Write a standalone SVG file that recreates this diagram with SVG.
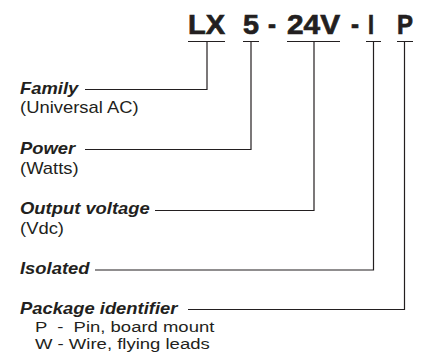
<svg xmlns="http://www.w3.org/2000/svg" width="422" height="356" viewBox="0 0 422 356">
<style>
.code{font-family:"Liberation Sans",Arial,sans-serif;font-weight:bold;font-size:28px;fill:#231f20;stroke:#231f20;stroke-width:0.7}
.lbl{font-family:"Liberation Sans",Arial,sans-serif;font-weight:bold;font-style:italic;font-size:16px;fill:#231f20}
.sub{font-family:"Liberation Sans",Arial,sans-serif;font-size:16px;fill:#231f20}
.opt{font-family:"Liberation Sans",Arial,sans-serif;font-size:15px;fill:#231f20}
.ln{fill:none;stroke:#231f20;stroke-width:1.2}
</style>
<rect width="422" height="356" fill="#fff"/>
<g id="code">
<text class="code" x="188" y="34" textLength="37" lengthAdjust="spacingAndGlyphs">LX</text>
<text class="code" x="243" y="34" textLength="16" lengthAdjust="spacingAndGlyphs">5</text>
<text class="code" x="268" y="34" textLength="8" lengthAdjust="spacingAndGlyphs">-</text>
<text class="code" x="287" y="34" textLength="53" lengthAdjust="spacingAndGlyphs">24V</text>
<text class="code" x="351" y="34" textLength="8" lengthAdjust="spacingAndGlyphs">-</text>
<text class="code" x="368" y="34" textLength="6" lengthAdjust="spacingAndGlyphs">I</text>
<text class="code" x="397" y="34" textLength="16" lengthAdjust="spacingAndGlyphs">P</text>
</g>
<g id="connectors" class="ln">
<path d="M188 41.5H225M207 41.5V89.5H85"/>
<path d="M243 41.5H259M251 41.5V149.5H85"/>
<path d="M287 41.5H340M314 41.5V210.5H155"/>
<path d="M366 41.5H381M373.5 41.5V270H95"/>
<path d="M397 41.5H413M404.5 41.5V309.5H188"/>
</g>
<g transform="scale(1.15 1)">
<g id="family">
<text class="lbl" x="17.4" y="94">Family</text>
<text class="sub" x="17.4" y="113">(Universal AC)</text>
</g>
<g id="power">
<text class="lbl" x="17.4" y="154">Power</text>
<text class="sub" x="17.4" y="174">(Watts)</text>
</g>
<g id="output-voltage">
<text class="lbl" x="17.4" y="214">Output voltage</text>
<text class="sub" x="17.4" y="234">(Vdc)</text>
</g>
<g id="isolated">
<text class="lbl" x="17.4" y="274">Isolated</text>
</g>
<g id="package">
<text class="lbl" x="17.4" y="314">Package identifier</text>
<text class="opt" x="30.4" y="332.5" xml:space="preserve" textLength="156" lengthAdjust="spacingAndGlyphs">P  -  Pin, board mount</text>
<text class="opt" x="30.4" y="349.5" textLength="152" lengthAdjust="spacingAndGlyphs">W - Wire, flying leads</text>
</g>
</g>
</svg>
